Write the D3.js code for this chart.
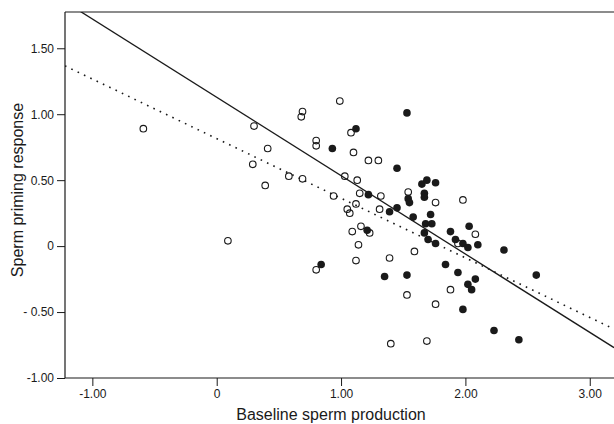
<!DOCTYPE html>
<html>
<head>
<meta charset="utf-8">
<script src="https://cdn.jsdelivr.net/npm/d3@7/dist/d3.min.js"></script>
<style>
  html, body { margin: 0; padding: 0; background: #fff; }
  svg { display: block; font-family: "Liberation Sans", Arial, Helvetica, sans-serif; }
</style>
</head>
<body>
<svg id="chart" width="614" height="424"></svg>
<script>
// Group A (open circles): baseline sperm production vs. priming response
const openX = [-0.59, 0.09, 0.30, 0.41, 0.29, 0.39, 0.58, 0.69, 0.69, 0.68, 0.80, 0.80,
  0.99, 1.08, 1.10, 1.22, 1.30, 1.03, 1.13, 0.94, 1.15, 1.32, 1.12, 1.05, 1.07, 1.31,
  1.16, 1.09, 1.23, 1.14, 1.12, 1.39, 1.59, 0.80, 1.54, 1.76, 1.98, 2.08, 1.88, 1.53,
  1.76, 1.40, 1.69, 1.94];
const openY = [0.89, 0.04, 0.91, 0.74, 0.62, 0.46, 0.53, 0.51, 1.02, 0.98, 0.80, 0.76,
  1.10, 0.86, 0.71, 0.65, 0.65, 0.53, 0.50, 0.38, 0.40, 0.38, 0.32, 0.28, 0.25, 0.28,
  0.15, 0.11, 0.10, 0.01, -0.11, -0.09, -0.04, -0.18, 0.41, 0.33, 0.35, 0.09, -0.33, -0.37,
  -0.44, -0.74, -0.72, 0.02];

// Group B (filled circles)
const filledX = [1.12, 0.93, 1.53, 1.45, 1.22, 1.45, 1.39, 1.54, 1.55, 1.58, 1.21, 0.84,
  1.35, 1.53, 1.65, 1.69, 1.76, 1.67, 1.67, 1.72, 1.68, 1.73, 1.67, 1.70, 1.76, 1.88,
  2.03, 1.92, 1.98, 2.02, 2.10, 2.31, 1.84, 1.94, 2.57, 2.02, 2.08, 2.05, 1.98, 2.23, 2.43];
const filledY = [0.89, 0.74, 1.01, 0.59, 0.39, 0.29, 0.26, 0.36, 0.33, 0.22, 0.12, -0.14,
  -0.23, -0.22, 0.47, 0.50, 0.48, 0.40, 0.37, 0.24, 0.17, 0.17, 0.10, 0.05, 0.02, 0.11,
  0.15, 0.05, 0.02, -0.01, 0.01, -0.03, -0.14, -0.20, -0.22, -0.29, -0.25, -0.33, -0.48, -0.64, -0.71];

// Regression lines: intercept and slope, solid then dotted
const fitIntercepts = [1.128, 0.815];
const fitSlopes = [-0.594, -0.452];
const fitDashes = [null, "1.6,5.4"];

// Axis ticks and their printed labels
const xTickValues = [-1, 0, 1, 2, 3];
const xTickLabels = ["-1.00", "0", "1.00", "2.00", "3.00"];
const yTickValues = [1.5, 1, 0.5, 0, -0.5, -1];
const yTickLabels = ["1.50", "1.00", "0.50", "0", "- 0.50", "-1.00"];

const svg = d3.select("#chart");
const plotLeft = 65, plotRight = 614, plotTop = 12, plotBottom = 378;

const x = d3.scaleLinear().domain([-1.22, 3.195]).range([plotLeft, plotRight]);
const y = d3.scaleLinear().domain([-1, 1.775]).range([plotBottom, plotTop]);

const ink = "#1a1a1a";

svg.append("defs").append("clipPath").attr("id", "plotClip")
  .append("rect").attr("x", plotLeft).attr("y", plotTop)
  .attr("width", plotRight - plotLeft).attr("height", plotBottom - plotTop);

// Frame top edge
svg.append("line")
  .attr("x1", plotLeft).attr("x2", plotRight).attr("y1", plotTop).attr("y2", plotTop)
  .attr("stroke", ink).attr("stroke-width", 1.2);

// Axes
const yAxis = d3.axisLeft(y).tickValues(yTickValues)
  .tickFormat((d, i) => yTickLabels[i]).tickSize(8).tickPadding(3);
const xAxis = d3.axisBottom(x).tickValues(xTickValues)
  .tickFormat((d, i) => xTickLabels[i]).tickSize(8).tickPadding(3);

const gy = svg.append("g").attr("transform", `translate(${plotLeft},0)`).call(yAxis);
const gx = svg.append("g").attr("transform", `translate(0,${plotBottom})`).call(xAxis);

[gy, gx].forEach(g => {
  g.select(".domain").attr("stroke", ink).attr("stroke-width", 1.2);
  g.selectAll(".tick line").attr("stroke", ink).attr("stroke-width", 1);
  g.selectAll(".tick text").attr("fill", ink).attr("font-size", 12)
    .attr("font-family", "'Liberation Sans', Arial, sans-serif");
});
// Domain paths drawn without the outer tick stubs
gy.select(".domain").attr("d", `M0,${plotTop}V${plotBottom}`);
gx.select(".domain").attr("d", `M${plotLeft},0H${plotRight}`);

// Fit lines
const plot = svg.append("g").attr("clip-path", "url(#plotClip)");
const xs = x.domain();
fitIntercepts.forEach((b, i) => {
  const m = fitSlopes[i];
  plot.append("line")
    .attr("x1", x(xs[0])).attr("y1", y(b + m * xs[0]))
    .attr("x2", x(xs[1])).attr("y2", y(b + m * xs[1]))
    .attr("stroke", ink)
    .attr("stroke-width", fitDashes[i] ? 1.6 : 1.3)
    .attr("stroke-dasharray", fitDashes[i]);
});

// Points
const openPts = openX.map((v, i) => [v, openY[i]]);
const filledPts = filledX.map((v, i) => [v, filledY[i]]);

plot.selectAll("circle.open").data(openPts).join("circle")
  .attr("class", "open")
  .attr("cx", d => x(d[0])).attr("cy", d => y(d[1])).attr("r", 3.3)
  .attr("fill", "none").attr("stroke", ink).attr("stroke-width", 1.1);

plot.selectAll("circle.filled").data(filledPts).join("circle")
  .attr("class", "filled")
  .attr("cx", d => x(d[0])).attr("cy", d => y(d[1])).attr("r", 3.8)
  .attr("fill", ink).attr("stroke", "none");

// Axis titles
svg.append("text")
  .attr("x", 331).attr("y", 420)
  .attr("text-anchor", "middle").attr("font-size", 16).attr("fill", ink)
  .text("Baseline sperm production");

svg.append("text")
  .attr("transform", "translate(23,190) rotate(-90)")
  .attr("text-anchor", "middle").attr("font-size", 16).attr("fill", ink)
  .text("Sperm priming response");
</script>
</body>
</html>
